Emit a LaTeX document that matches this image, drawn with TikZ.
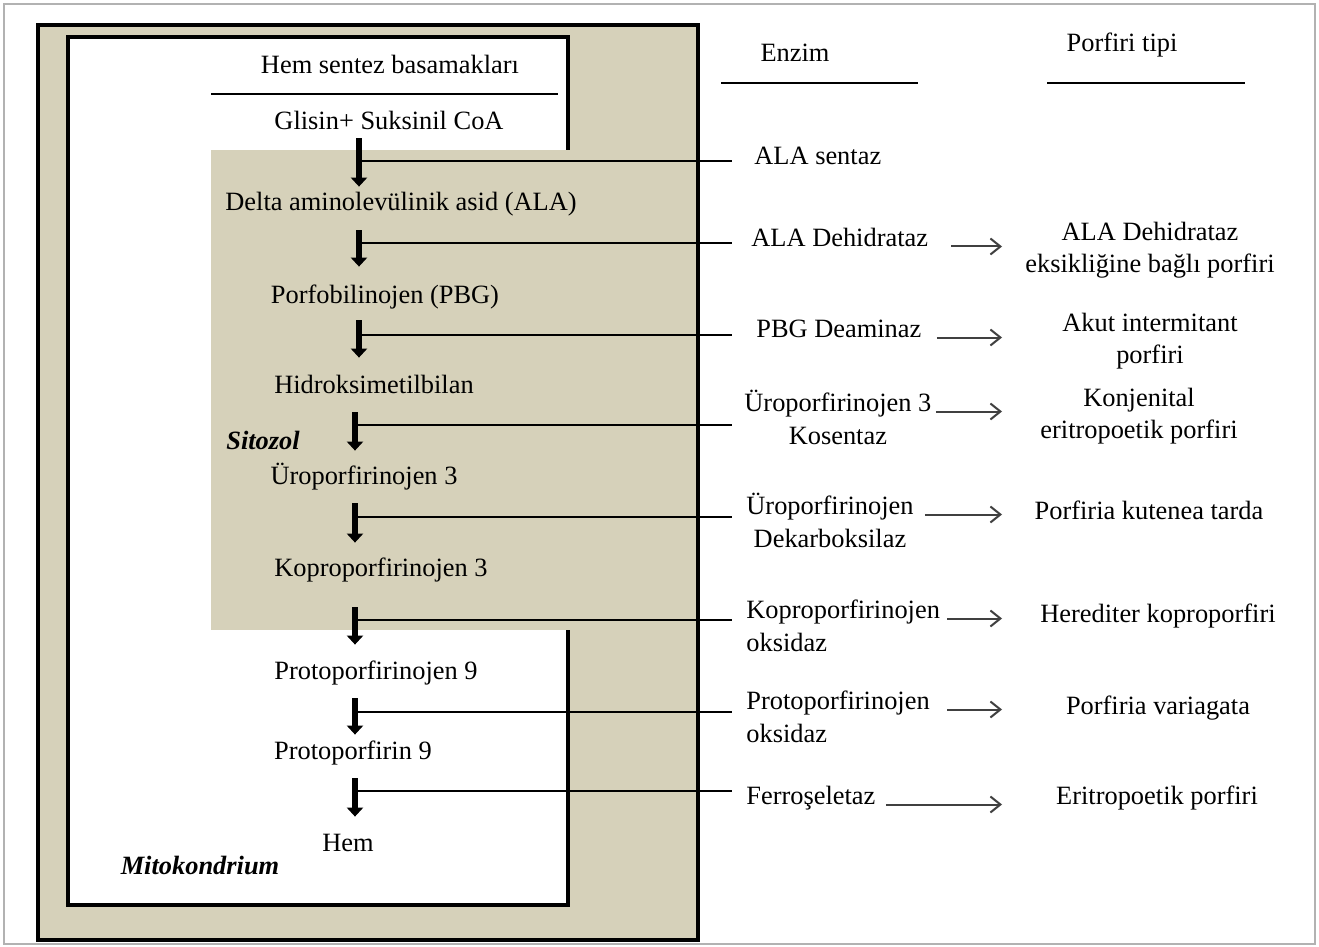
\documentclass[tikz,border=0pt]{standalone}
\usepackage{fontspec}
\setmainfont{Liberation Serif}
\usetikzlibrary{arrows.meta,positioning}
\definecolor{cytobeige}{RGB}{214,209,186}
\tikzset{
  txt/.style={font=\fontsize{13.2pt}{16pt}\selectfont, inner sep=0pt, text height=9.5pt, text depth=3pt},
  stepnode/.style={txt},
  enz/.style={txt, anchor=west},
  ptype/.style={font=\fontsize{13.2pt}{16pt}\selectfont, inner sep=0pt, align=center},
  compart/.style={txt, font=\fontsize{13.2pt}{16pt}\selectfont\bfseries\itshape},
  steparrow/.style={line width=3.3pt, -{Triangle[width=8pt,length=4.5pt]}},
  link/.style={line width=0.75pt},
  typearrow/.style={line width=1pt, draw=black!75, -{Straight Barb[length=5pt,width=8pt,line width=1pt]}},
  rule/.style={line width=0.75pt},
}
\begin{document}
\begin{tikzpicture}[x=0.5pt,y=-0.5pt]
  \useasboundingbox (0,0) rectangle (1319,947);
  % frame
  \draw[gray!60, line width=0.8pt] (4,4) rectangle (1315,944);
  % cytosol and mitochondrion
  \filldraw[fill=cytobeige, draw=black, line width=2pt] (38,25) rectangle (698,940);
  \filldraw[fill=white, draw=black, line width=2pt] (68,37) rectangle (568,905);
  \fill[cytobeige] (211,150) rectangle (571,630);
  \node[compart] (cyto) at (263,443) {Sitozol};
  \node[compart] (mito) at (200,868) {Mitokondrium};
  % headers
  \node[txt] (hsteps) at (390,67) {Hem sentez basamakları};
  \node[txt] (henz) at (795,55) {Enzim};
  \node[txt] (htype) at (1122,45) {Porfiri tipi};
  \draw[rule] (211,94) -- (558,94);
  \draw[rule] (721,83) -- (918,83);
  \draw[rule] (1047,83) -- (1245,83);
  % synthesis steps
  \node[stepnode] (s1) at (389,123) {Glisin+ Suksinil CoA};
  \node[stepnode] (s2) at (401,204) {Delta aminolevülinik asid (ALA)};
  \node[stepnode] (s3) at (385,297) {Porfobilinojen (PBG)};
  \node[stepnode] (s4) at (374,387) {Hidroksimetilbilan};
  \node[stepnode] (s5) at (364,478) {Üroporfirinojen 3};
  \node[stepnode] (s6) at (381,570) {Koproporfirinojen 3};
  \node[stepnode] (s7) at (376,673) {Protoporfirinojen 9};
  \node[stepnode] (s8) at (353,753) {Protoporfirin 9};
  \node[stepnode] (s9) at (348,845) {Hem};
  % enzymes
  \node[enz] (e1) at (754,158) {ALA sentaz};
  \node[enz] (e2) at (751,240) {ALA Dehidrataz};
  \node[enz] (e3) at (756,331) {PBG Deaminaz};
  \node[enz] (e4) at (744,405) {Üroporfirinojen 3};
  \node[txt, below=3.5pt of e4] (e4b) {Kosentaz};
  \node[enz] (e5) at (746,508) {Üroporfirinojen};
  \node[txt, below=3.5pt of e5] (e5b) {Dekarboksilaz};
  \node[enz] (e6) at (746,612) {Koproporfirinojen};
  \node[txt, below=3.5pt of e6.south west, anchor=north west] (e6b) {oksidaz};
  \node[enz] (e7) at (746,703) {Protoporfirinojen};
  \node[txt, below=3.5pt of e7.south west, anchor=north west] (e7b) {oksidaz};
  \node[enz] (e8) at (746,798) {Ferroşeletaz};
  % porphyria types
  \node[ptype] (p2) at (1150,250) {ALA Dehidrataz\\eksikliğine bağlı porfiri};
  \node[ptype] (p3) at (1150,341) {Akut intermitant\\porfiri};
  \node[ptype] (p4) at (1139,416) {Konjenital\\eritropoetik porfiri};
  \node[txt] (p5) at (1149,513) {Porfiria kutenea tarda};
  \node[txt] (p6) at (1158,616) {Herediter koproporfiri};
  \node[txt] (p7) at (1158,708) {Porfiria variagata};
  \node[txt] (p8) at (1157,798) {Eritropoetik porfiri};
  % columns
  \coordinate (colA) at (359,0);
  \coordinate (colB) at (355,0);
  \coordinate (ecol) at (732,0);
  \coordinate (tcol) at (1002,0);
  % links to enzymes
  \foreach \k/\c/\y in {1/A/161, 2/A/243, 3/A/335, 4/B/425, 5/B/517, 6/B/620, 7/B/712, 8/B/791}{
    \coordinate (m\k) at (col\c |- 0,\y);
    \draw[link] (m\k) -- (m\k -| ecol);
  }
  % step arrows
  \foreach \i/\j/\c/\sa/\sb in {1/2/A/1.25/2.25, 2/3/A/6.75/8.75, 3/4/A/5.25/8.25, 4/5/B/6.25/7.25,
      5/6/B/6.25/7.25, 6/7/B/12.25/7.75, 7/8/B/6.25/2.75, 8/9/B/6.25/7.75}
    \draw[steparrow, shorten <=\sa pt, shorten >=\sb pt] (s\i.south -| col\c) -- (s\j.north -| col\c);
  % enzyme to porphyria
  \foreach \e/\s in {e2/11.5, e3/7.5, e4/2, e5/5.5, e6/3.5, e7/8.5, e8/5}
    \draw[typearrow, shorten <=\s pt] (\e.base east) -- (\e.base east -| tcol);
\end{tikzpicture}
\end{document}
